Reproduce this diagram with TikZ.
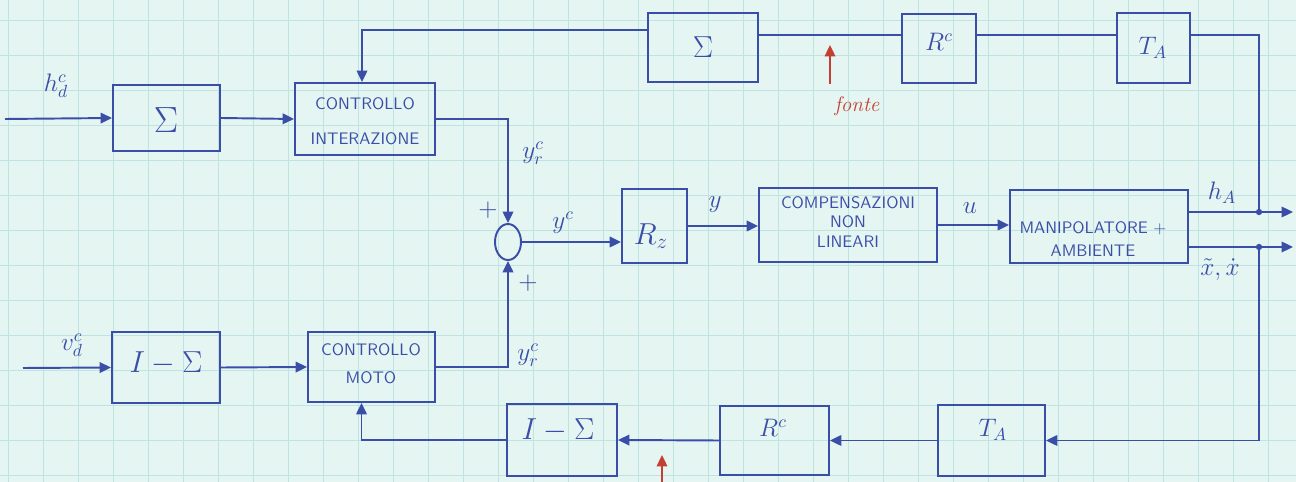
\documentclass[tikz,border=0pt]{standalone}
\usepackage{fontspec}
\usetikzlibrary{arrows.meta,calc,shapes.geometric}
\definecolor{ink}{RGB}{58,78,168}
\definecolor{redink}{RGB}{196,62,52}
\definecolor{paper}{RGB}{228,245,242}
\definecolor{gridc}{RGB}{190,227,227}
\begin{document}
\begin{tikzpicture}[x=0.02cm,y=-0.02cm,
  wire/.style={draw=ink,line width=1.1pt},
  arr/.style={wire,-{Triangle[length=6.5pt,width=6pt]}},
  redarr/.style={draw=redink,line width=1.1pt,-{Triangle[length=6.5pt,width=6pt]}},
  box/.style 2 args={draw=ink,line width=1.1pt,rectangle,inner sep=0pt,minimum width=#1,minimum height=#2},
  lab/.style={text=ink,inner sep=1pt},
  btxt/.style={text=ink,inner sep=0pt,align=center}]
% paper and grid
\fill[paper] (0,0) rectangle (1296,482);
\useasboundingbox (0,0) rectangle (1296,482);
\foreach \gx in {8,43,...,1296} \draw[gridc,line width=0.5pt] (\gx,0) -- (\gx,482);
\foreach \gy in {20,55,...,482} \draw[gridc,line width=0.5pt] (0,\gy) -- (1296,\gy);
% boxes
\node[box={2.14cm}{1.32cm}] (sig1) at (166.5,118) {};
\node[box={2.8cm}{1.44cm}] (ci) at (365,119) {};
\node[box={2.2cm}{1.38cm}] (sigT) at (703,47.5) {};
\node[box={1.48cm}{1.38cm}] (rcT) at (939,48.5) {};
\node[box={1.46cm}{1.4cm}] (taT) at (1153.5,48) {};
\node[box={2.16cm}{1.42cm}] (ims1) at (166,367.5) {};
\node[box={2.54cm}{1.4cm}] (cm) at (371.5,367) {};
\node[draw=ink,line width=1.1pt,ellipse,inner sep=0pt,minimum width=0.52cm,minimum height=0.72cm] (sum) at (508,242) {};
\node[box={1.3cm}{1.48cm}] (rz) at (654.5,226) {};
\node[box={3.56cm}{1.48cm}] (comp) at (848,225) {};
\node[box={3.56cm}{1.46cm}] (man) at (1099,226.5) {};
\node[box={2.2cm}{1.44cm}] (ims2) at (562,440) {};
\node[box={2.18cm}{1.38cm}] (rcB) at (774.5,440.5) {};
\node[box={2.14cm}{1.42cm}] (taB) at (991.5,440.5) {};
% box texts
\node[lab,font=\huge] (t-sig1) at (166,120) {$\Sigma$};
\node[btxt,font=\sffamily\fontsize{9.5}{20}\selectfont] (t-ci) at (365,121) {CONTROLLO\\INTERAZIONE};
\node[lab,font=\LARGE] (t-sigT) at (703,47) {$\Sigma$};
\node[lab,font=\Large] (t-rcT) at (939,42) {$R^c$};
\node[lab,font=\Large] (t-taT) at (1153,48) {$T_A$};
\node[lab,font=\LARGE] (t-ims1) at (166,363) {$I-\Sigma$};
\node[btxt,font=\sffamily\fontsize{9.5}{16}\selectfont] (t-cm) at (371,364) {CONTROLLO\\MOTO};
\node[lab,font=\LARGE] (t-rz) at (651,236) {$R_z$};
\node[btxt,font=\sffamily\fontsize{9.5}{11}\selectfont] (t-comp) at (848,222) {COMPENSAZIONI\\NON\\LINEARI};
\node[btxt,font=\sffamily\fontsize{9.5}{13}\selectfont] (t-man) at (1093,239) {MANIPOLATORE +\\AMBIENTE};
\node[lab,font=\LARGE] (t-ims2) at (558,430) {$I-\Sigma$};
\node[lab,font=\Large] (t-rcB) at (773,428) {$R^c$};
\node[lab,font=\Large] (t-taB) at (993,430) {$T_A$};
% helper coordinates
\coordinate (hdin) at (5,119);
\coordinate (vdin) at (23,368);
\coordinate (topline) at (0,35);
\coordinate (dotH) at (1259,212);
\coordinate (dotX) at (1259,247);
\coordinate (outH) at (1293,212);
\coordinate (outX) at (1293,247);
% connectors
\draw[arr] (hdin) -- (sig1.west);
\draw[arr] (sig1.east) -- (ci.west);
\draw[arr] ($(sigT.north west)+(0,18)$) -| ($(ci.north)+(-3,0)$);
\draw[wire] (sigT.east |- topline) -- (rcT.west |- topline);
\draw[wire] (rcT.east |- topline) -- (taT.west |- topline);
\draw[wire] (taT.east |- topline) -| (dotH);
\draw[arr] (man.east |- dotH) -- (outH);
\draw[arr] (man.east |- dotX) -- (outX);
\fill[ink] (dotH) circle (1.8pt);
\fill[ink] (dotX) circle (1.8pt);
\draw[arr] (dotX) |- (taB.east);
\draw[arr] (taB.west) -- (rcB.east);
\draw[arr] (rcB.west) -- (ims2.east);
\draw[arr] (ims2.west) -| ($(cm.south)+(-10,0)$);
\draw[arr] (vdin) -- (ims1.west);
\draw[arr] (ims1.east) -- (cm.west);
\draw[arr] (cm.east) -| (sum.south);
\draw[arr] (ci.east) -| (sum.north);
\draw[arr] (sum.east) -- (sum.east -| rz.west);
\draw[arr] (rz.east) -- (rz.east -| comp.west);
\draw[arr] (comp.east) -- (comp.east -| man.west);
% labels
\node[lab,font=\Large] (l-hd) at (56,86) {$h_d^c$};
\node[lab,font=\Large] (l-vd) at (72,345) {$v_d^c$};
\node[lab,font=\Large] (l-yr1) at (533,153) {$y_r^c$};
\node[lab,font=\Large] (l-yr2) at (528,355) {$y_r^c$};
\node[lab,font=\Large] (l-p1) at (488,210) {$+$};
\node[lab,font=\Large] (l-p2) at (528,283) {$+$};
\node[lab,font=\Large] (l-yc) at (563,223) {$y^c$};
\node[lab,font=\Large] (l-y) at (715,205) {$y$};
\node[lab,font=\Large] (l-u) at (970,208) {$u$};
\node[lab,font=\Large] (l-hA) at (1222,193) {$h_A$};
\node[lab,font=\Large] (l-xx) at (1220,270) {$\tilde{x},\dot{x}$};
% red annotations
\coordinate (f1) at (830,84);
\coordinate (f2) at (830,45);
\draw[redarr] (f1) -- (f2);
\node[text=redink,font=\large\itshape,inner sep=1pt] (l-fonte) at (857,106) {fonte};
\coordinate (g1) at (662,482);
\coordinate (g2) at (662,455);
\draw[redarr] (g1) -- (g2);
\end{tikzpicture}
\end{document}
